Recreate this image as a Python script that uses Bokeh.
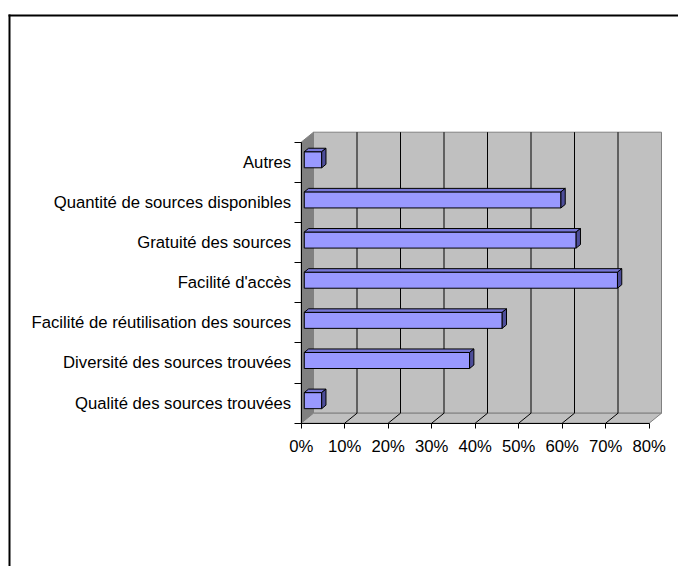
from bokeh.plotting import figure
from bokeh.models import LinearAxis, FixedTicker, ColumnDataSource, PrintfTickFormatter
from bokeh.embed import file_html
from bokeh.resources import INLINE

# ---- data ----
categories = [
    "Qualité des sources trouvées",
    "Diversité des sources trouvées",
    "Facilité de réutilisation des sources",
    "Facilité d'accès",
    "Gratuité des sources",
    "Quantité de sources disponibles",
    "Autres",
]
values = [4, 38, 45.5, 72, 62.5, 59, 4]
x_ticks = [0, 10, 20, 30, 40, 50, 60, 70, 80]

# ---- layout ----
W, H = 678, 566
X0_PX, X80_PX = 300.7, 648.7      # canvas px of x=0 and x=80 on the front axis
Y0_PX, YN_PX = 422.7, 141.7       # canvas px (from top) of y=0 and y=N
N = len(categories)
XMAX = x_ticks[-1]
sx = (X80_PX - X0_PX) / XMAX
sy = (Y0_PX - YN_PX) / N
x_start, x_end = -X0_PX / sx, (W - X0_PX) / sx
y_start, y_end = -(H - Y0_PX) / sy, N + YN_PX / sy

DX, DY = 12.3 / sx, 10.0 / sy      # depth of the 3D box
F0, F1 = 0.25, 0.6                 # bar depth span (fraction of box depth)
BH = 0.4                           # bar thickness (category units)

FONT = "Liberation Sans"
FS = "16.7px"

p = figure(width=W, height=H, x_range=(x_start, x_end), y_range=(y_start, y_end),
           output_backend="svg", toolbar_location=None,
           x_axis_type=None, y_axis_type=None, min_border=0,
           outline_line_color=None, background_fill_color="white",
           border_fill_color="white")
p.grid.visible = False

# outer frame (top and left edges visible), drawn as thin filled bands
bx0, bx1 = x_start + 8.0 / sx, x_start + 10.0 / sx
by0, by1 = y_end - 16.0 / sy, y_end - 14.0 / sy
p.quad(left=[bx0, bx0], right=[x_end, bx1], bottom=[by0, y_start], top=[by1, by1],
       fill_color="black", line_color=None)

# walls
p.quad(left=DX, right=XMAX + DX, bottom=DY, top=N + DY,
       fill_color="#c0c0c0", line_color="#808080")
p.patch([0, DX, DX, 0], [0, DY, N + DY, N], fill_color="#808080", line_color="#808080")
p.patch([0, XMAX, XMAX + DX, DX], [0, 0, DY, DY], fill_color="#c0c0c0", line_color="#808080")
inner = x_ticks[1:-1]
p.segment(x0=[t + DX for t in inner], y0=[DY] * len(inner),
          x1=[t + DX for t in inner], y1=[N + DY] * len(inner), line_color="black")
p.segment(x0=inner, y0=[0] * len(inner), x1=[t + DX for t in inner], y1=[DY] * len(inner),
          line_color="black")

# bars
dx0, dy0 = F0 * DX, F0 * DY
ddx, ddy = (F1 - F0) * DX, (F1 - F0) * DY
yc = [i + 0.5 + dy0 for i in range(N)]
front = ColumnDataSource(dict(left=[dx0] * N, right=[v + dx0 for v in values],
                              bottom=[y - BH / 2 for y in yc], top=[y + BH / 2 for y in yc]))
p.quad(left="left", right="right", bottom="bottom", top="top", source=front,
       fill_color="#9999ff", line_color="black", line_width=1)
top_xs = [[dx0, v + dx0, v + dx0 + ddx, dx0 + ddx] for v in values]
top_ys = [[y + BH / 2, y + BH / 2, y + BH / 2 + ddy, y + BH / 2 + ddy] for y in yc]
p.patches(top_xs, top_ys, fill_color="#7777d6", line_color="black", line_width=1)
side_xs = [[v + dx0, v + dx0 + ddx, v + dx0 + ddx, v + dx0] for v in values]
side_ys = [[y - BH / 2, y - BH / 2 + ddy, y + BH / 2 + ddy, y + BH / 2] for y in yc]
p.patches(side_xs, side_ys, fill_color="#4d4d99", line_color="black", line_width=1)

# axes
xaxis = LinearAxis(fixed_location=0, bounds=(0, XMAX), ticker=FixedTicker(ticks=x_ticks),
                   formatter=PrintfTickFormatter(format="%d%%"),
                   major_tick_out=5, major_tick_in=0, minor_tick_out=0, minor_tick_in=0,
                   major_label_standoff=9, major_label_text_font=FONT,
                   major_label_text_font_size=FS, major_label_text_color="black",
                   axis_line_color="black", major_tick_line_color="black")
p.add_layout(xaxis, "below")

centers = [i + 0.5 for i in range(N)]
yaxis = LinearAxis(fixed_location=0, bounds=(0, N),
                   ticker=FixedTicker(ticks=centers, minor_ticks=list(range(N + 1))),
                   major_label_overrides={c: cat for c, cat in zip(centers, categories)},
                   major_tick_out=0, major_tick_in=0, minor_tick_out=7, minor_tick_in=0,
                   major_label_standoff=3, major_label_text_font=FONT,
                   major_label_text_font_size=FS, major_label_text_color="black",
                   axis_line_color="black", minor_tick_line_color="black")
p.add_layout(yaxis, "left")

open("out.html", "w").write(file_html(p, INLINE))
